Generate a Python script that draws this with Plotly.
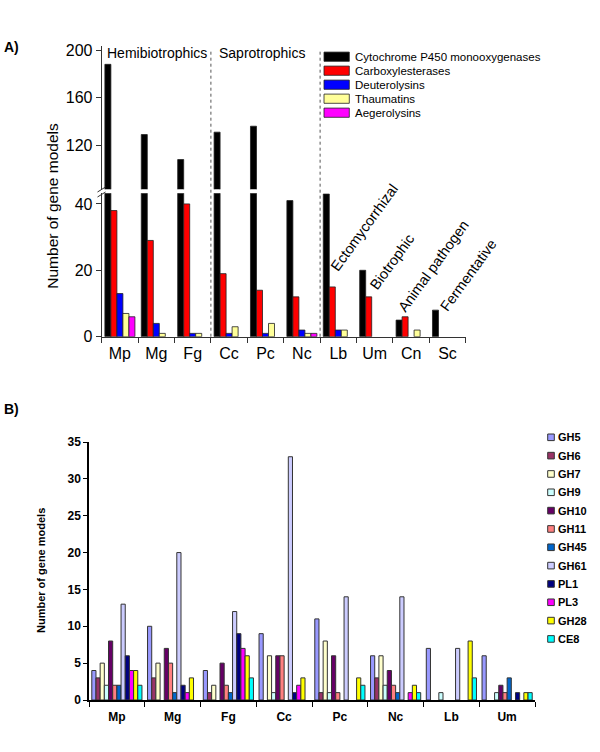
import plotly.graph_objects as go

W, H = 600, 752

# ---- panel A data ----
species_a = ['Mp', 'Mg', 'Fg', 'Cc', 'Pc', 'Nc', 'Lb', 'Um', 'Cn', 'Sc']
series_a = ['Cytochrome P450 monooxygenases', 'Carboxylesterases', 'Deuterolysins',
            'Thaumatins', 'Aegerolysins']
p450 = [188, 129, 108, 131, 136, 41, 43, 20, 5, 8]
carboxylesterases = [38, 29, 40, 19, 14, 12, 15, 12, 6, 0]
deuterolysins = [13, 4, 1, 1, 1, 2, 2, 0, 0, 0]
thaumatins = [7, 1, 1, 3, 4, 1, 2, 0, 2, 0]
aegerolysins = [6, 0, 0, 0, 0, 1, 0, 0, 0, 0]
colors_a = ['#000000', '#FF0000', '#0000FF', '#FFFF99', '#FF00FF']
lifestyles = ['Hemibiotrophics', 'Saprotrophics']
lifestyles_rot = ['Ectomycorrhizal', 'Biotrophic', 'Animal pathogen', 'Fermentative']

# ---- panel B data ----
species_b = ['Mp', 'Mg', 'Fg', 'Cc', 'Pc', 'Nc', 'Lb', 'Um']
families = ['GH5', 'GH6', 'GH7', 'GH9', 'GH10', 'GH11', 'GH45', 'GH61',
            'PL1', 'PL3', 'GH28', 'CE8']
gh5 = [4, 10, 4, 9, 11, 6, 7, 6]
gh6 = [3, 3, 1, 0, 1, 3, 0, 0]
gh7 = [5, 5, 2, 6, 8, 6, 0, 0]
gh9 = [2, 0, 0, 1, 1, 2, 1, 1]
gh10 = [8, 7, 5, 6, 6, 4, 0, 2]
gh11 = [2, 5, 2, 6, 1, 2, 0, 1]
gh45 = [2, 1, 1, 0, 0, 1, 0, 3]
gh61 = [13, 20, 12, 33, 14, 14, 7, 0]
pl1 = [6, 2, 9, 1, 0, 0, 0, 1]
pl3 = [4, 1, 7, 2, 0, 1, 0, 0]
gh28 = [4, 3, 6, 3, 3, 2, 8, 1]
ce8 = [2, 0, 3, 0, 2, 1, 3, 1]
colors_b = ['#9999FF', '#993366', '#FFFFCC', '#CCFFFF', '#660066', '#FF8080',
            '#0066CC', '#CCCCFF', '#000080', '#FF00FF', '#FFFF00', '#00FFFF']

FONT = 'Liberation Sans, Arial, sans-serif'


def px(x):
    return x / W


def py(y):
    return 1 - y / H


def nz(vals):
    # drop zero bars so no outline is drawn on the baseline
    return [v if v else None for v in vals]


fig = go.Figure()

# panel A: lower segment (y) + upper segment (y2) of a broken axis
vals_a = [p450, carboxylesterases, deuterolysins, thaumatins, aegerolysins]
wa = 0.165
for i, (name, vals, col) in enumerate(zip(series_a, vals_a, colors_a)):
    fig.add_trace(go.Bar(x=species_a, y=nz(vals), name=name, xaxis='x', yaxis='y',
                         width=wa, offset=-2.5 * wa + i * wa,
                         marker=dict(color=col, line=dict(color='#222222', width=0.8))))
fig.add_trace(go.Bar(x=species_a, y=p450, xaxis='x', yaxis='y2',
                     width=wa, offset=-2.5 * wa,
                     marker=dict(color=colors_a[0], line=dict(color='#222222', width=0.8))))

# panel B
vals_b = [gh5, gh6, gh7, gh9, gh10, gh11, gh45, gh61, pl1, pl3, gh28, ce8]
wb = 0.075
for i, (name, vals, col) in enumerate(zip(families, vals_b, colors_b)):
    fig.add_trace(go.Bar(x=species_b, y=nz(vals), name=name, xaxis='x3', yaxis='y3',
                         width=wb, offset=-6 * wb + i * wb,
                         marker=dict(color=col, line=dict(color='#333333', width=1))))

axis_a = dict(showline=True, linecolor='#333333', linewidth=1, ticks='outside',
              ticklen=5, tickcolor='#333333', showgrid=False, zeroline=False,
              automargin=False, tickfont=dict(family=FONT, size=16, color='black'))
axis_b = dict(showline=True, linecolor='black', linewidth=1.5, ticks='outside',
              ticklen=4, tickcolor='black', showgrid=False, zeroline=False,
              automargin=False,
              tickfont=dict(family=FONT, size=12, color='black', weight='bold'))

fig.update_layout(
    width=W, height=H, autosize=False,
    margin=dict(l=0, r=0, t=0, b=0, pad=0),
    plot_bgcolor='white', paper_bgcolor='white',
    barmode='overlay', showlegend=False,
    font=dict(family=FONT, color='black'),
    xaxis=dict(axis_a, domain=[px(101.7), px(465.7)], anchor='y', type='category',
               range=[-0.5, 9.5], tickson='boundaries', ticklabelstandoff=2),
    yaxis=dict(axis_a, domain=[py(336.7), py(193.3)], anchor='x', range=[0, 43.2],
               tickvals=[0, 20, 40]),
    yaxis2=dict(axis_a, domain=[py(189.3), py(46)], anchor='x', range=[83, 203.4],
                tickvals=[120, 160, 200]),
    xaxis3=dict(axis_b, domain=[px(89), px(535)], anchor='y3', type='category',
                range=[-0.5, 7.5], tickson='boundaries', ticklen=5,
                ticklabelstandoff=5),
    yaxis3=dict(axis_b, domain=[py(700), py(442)], anchor='x3', range=[0, 35],
                dtick=5),
)

shapes = []
annotations = []

# dotted separators between lifestyle groups
for xb in [2.5, 5.5]:
    shapes.append(dict(type='line', xref='x', yref='paper', x0=xb, x1=xb,
                       y0=py(336.7), y1=py(50),
                       line=dict(color='#555555', width=1, dash='dot')))

# axis break marks
for yb in [189.5, 194.5]:
    shapes.append(dict(type='line', xref='paper', yref='paper',
                       x0=px(97.5), x1=px(105.5), y0=py(yb + 2.5), y1=py(yb - 2.5),
                       line=dict(color='#333333', width=1)))

# lifestyle labels
for text, x0 in zip(lifestyles, [105, 217]):
    annotations.append(dict(text=text, xref='paper', yref='paper', x=px(x0), y=py(53.5),
                            xanchor='left', yanchor='middle', showarrow=False,
                            font=dict(size=14, family=FONT)))
for text, (cx, cy) in zip(lifestyles_rot, [(364, 228), (392, 262), (433.5, 266), (468.5, 275)]):
    annotations.append(dict(text=text, xref='paper', yref='paper', x=px(cx), y=py(cy),
                            xanchor='center', yanchor='middle', showarrow=False,
                            textangle=-54, font=dict(size=14.5, family=FONT)))

# legend A
for i, (name, col) in enumerate(zip(series_a, colors_a)):
    yc = 56.7 + i * 14
    shapes.append(dict(type='rect', xref='paper', yref='paper',
                       x0=px(324), x1=px(349.3), y0=py(yc + 4.6), y1=py(yc - 4.6),
                       fillcolor=col, line=dict(color='#222222', width=0.8)))
    annotations.append(dict(text=name, xref='paper', yref='paper', x=px(353), y=py(yc),
                            xanchor='left', yanchor='middle', showarrow=False,
                            font=dict(size=11.5, family=FONT)))

# legend B
for i, (name, col) in enumerate(zip(families, colors_b)):
    yc = 437.3 + i * 18.33
    shapes.append(dict(type='rect', xref='paper', yref='paper',
                       x0=px(547.7), x1=px(554.3), y0=py(yc + 3.3), y1=py(yc - 3.3),
                       fillcolor=col, line=dict(color='#333333', width=1)))
    annotations.append(dict(text=name, xref='paper', yref='paper', x=px(556), y=py(yc),
                            xanchor='left', yanchor='middle', showarrow=False,
                            font=dict(size=11, family=FONT, weight='bold')))

# axis titles and panel letters
annotations.append(dict(text='Number of gene models', xref='paper', yref='paper',
                        x=px(51.7), y=py(206), textangle=-90, showarrow=False,
                        xanchor='center', yanchor='middle',
                        font=dict(size=15.5, family=FONT)))
annotations.append(dict(text='Number of gene models', xref='paper', yref='paper',
                        x=px(41), y=py(571), textangle=-90, showarrow=False,
                        xanchor='center', yanchor='middle',
                        font=dict(size=11, family=FONT, weight='bold')))
annotations.append(dict(text='A)', xref='paper', yref='paper', x=px(2), y=py(47),
                        xanchor='left', yanchor='middle', showarrow=False,
                        font=dict(size=14, family=FONT, weight='bold')))
annotations.append(dict(text='B)', xref='paper', yref='paper', x=px(2), y=py(409),
                        xanchor='left', yanchor='middle', showarrow=False,
                        font=dict(size=14, family=FONT, weight='bold')))

fig.update_layout(shapes=shapes, annotations=annotations)

fig.write_html("out.html", config={'displayModeBar': False},
               post_script="document.body.style.margin='0';document.body.style.overflow='hidden';")
